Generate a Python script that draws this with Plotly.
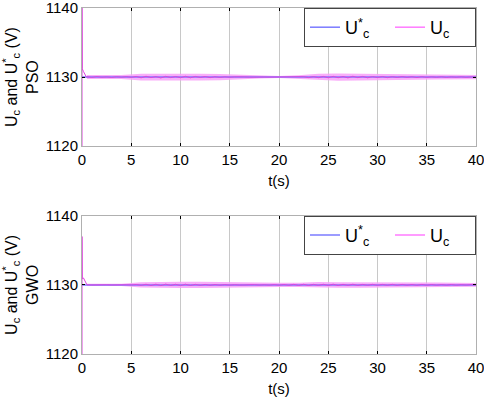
import numpy as np
import plotly.graph_objects as go
from plotly.subplots import make_subplots

# sampling grid of the steady part (s)
t_steady = np.arange(0.5, 40.01, 0.5)

# start-up transient (t, V)
t_start = [0, 0, 0.03, 0.15, 0.3, 0.45]
uc_start_pso = [1120, 1141, 1131.2, 1130.8, 1130.3, 1130.0]
uc_start_gwo = [1120, 1137, 1130.9, 1131.0, 1130.6, 1130.1]

# Uc around the reference, PSO
uc_pso = [
    1130.05, 1129.95, 1130.08, 1129.97, 1130.04, 1129.94, 1130.06, 1129.98, 1130.07, 1129.96,
    1130.10, 1129.90, 1130.12, 1129.92, 1130.08, 1129.88, 1130.11, 1129.93, 1130.09, 1129.91,
    1130.12, 1129.90, 1130.10, 1129.94, 1130.09, 1129.92, 1130.06, 1129.95, 1130.05, 1129.97,
    1130.04, 1129.98, 1130.03, 1129.99, 1130.02, 1129.99, 1130.01, 1130.00, 1130.01, 1129.99,
    1130.02, 1129.98, 1130.04, 1129.96, 1130.06, 1129.93, 1130.08, 1129.92, 1130.10, 1129.90,
    1130.11, 1129.91, 1130.09, 1129.89, 1130.12, 1129.92, 1130.10, 1129.90, 1130.08, 1129.93,
    1130.09, 1129.92, 1130.07, 1129.94, 1130.08, 1129.95, 1130.06, 1129.93, 1130.07, 1129.95,
    1130.05, 1129.96, 1130.06, 1129.95, 1130.04, 1129.97, 1130.05, 1129.96, 1130.03, 1129.98,
]

# Uc around the reference, GWO
uc_gwo = [
    1130.02, 1129.99, 1130.03, 1129.98, 1130.02, 1129.99, 1130.03, 1129.98, 1130.02, 1129.99,
    1130.06, 1129.94, 1130.09, 1129.91, 1130.10, 1129.90, 1130.11, 1129.92, 1130.09, 1129.90,
    1130.10, 1129.91, 1130.08, 1129.93, 1130.07, 1129.94, 1130.06, 1129.95, 1130.05, 1129.96,
    1130.04, 1129.97, 1130.03, 1129.98, 1130.04, 1129.97, 1130.03, 1129.96, 1130.05, 1129.95,
    1130.06, 1129.94, 1130.08, 1129.92, 1130.09, 1129.91, 1130.08, 1129.93, 1130.09, 1129.92,
    1130.10, 1129.91, 1130.08, 1129.93, 1130.09, 1129.92, 1130.07, 1129.94, 1130.08, 1129.93,
    1130.07, 1129.94, 1130.08, 1129.93, 1130.07, 1129.95, 1130.06, 1129.94, 1130.07, 1129.95,
    1130.06, 1129.95, 1130.05, 1129.96, 1130.06, 1129.95, 1130.04, 1129.97, 1130.05, 1129.97,
]

# ripple envelope (t every 2 s)
t_band = [0.5, 2, 4, 6, 8, 10, 12, 14, 16, 18, 20, 22, 24, 26, 28, 30, 32, 34, 36, 38, 40]
pso_upper = [1130.3, 1130.28, 1130.3, 1130.5, 1130.52, 1130.48, 1130.5, 1130.45, 1130.32, 1130.22,
             1130.15, 1130.28, 1130.48, 1130.52, 1130.5, 1130.52, 1130.48, 1130.4, 1130.36, 1130.34, 1130.3]
pso_lower = [1129.72, 1129.74, 1129.72, 1129.52, 1129.5, 1129.52, 1129.5, 1129.56, 1129.7, 1129.8,
             1129.86, 1129.74, 1129.52, 1129.48, 1129.5, 1129.5, 1129.52, 1129.6, 1129.64, 1129.66, 1129.7]
gwo_upper = [1130.18, 1130.15, 1130.18, 1130.4, 1130.48, 1130.46, 1130.45, 1130.4, 1130.32, 1130.28,
             1130.3, 1130.32, 1130.42, 1130.4, 1130.4, 1130.42, 1130.4, 1130.38, 1130.34, 1130.3, 1130.28]
gwo_lower = [1129.84, 1129.86, 1129.84, 1129.62, 1129.54, 1129.56, 1129.56, 1129.6, 1129.68, 1129.72,
             1129.7, 1129.68, 1129.6, 1129.6, 1129.58, 1129.6, 1129.6, 1129.62, 1129.66, 1129.7, 1129.72]

t_ref = [0, 40]
uc_ref = [1130, 1130]

x_ticks = [0, 5, 10, 15, 20, 25, 30, 35, 40]
y_ticks = [1120, 1130, 1140]

FONT = "Liberation Sans, Arial, sans-serif"
BLUE = "#7b7bff"
PINK = "#ff7bff"
PINK_DARK = "#dd44dd"
BAND = "rgba(248,160,248,0.85)"

fig = make_subplots(rows=2, cols=1, vertical_spacing=0.2012)

panels = [
    (1, "PSO", uc_start_pso, uc_pso, pso_upper, pso_lower, "legend"),
    (2, "GWO", uc_start_gwo, uc_gwo, gwo_upper, gwo_lower, "legend2"),
]
for row, name, start, steady, upper, lower, leg in panels:
    fig.add_trace(go.Scatter(x=t_band, y=lower, mode="lines", line=dict(width=0),
                             showlegend=False, hoverinfo="skip"), row=row, col=1)
    fig.add_trace(go.Scatter(x=t_band, y=upper, mode="lines", line=dict(width=0),
                             fill="tonexty", fillcolor=BAND, showlegend=False,
                             hoverinfo="skip"), row=row, col=1)
    fig.add_trace(go.Scatter(x=t_ref, y=uc_ref, mode="lines", name="U<sup>*</sup><sub>c</sub>",
                             line=dict(color=BLUE, width=1.5), legend=leg, legendrank=1),
                  row=row, col=1)
    fig.add_trace(go.Scatter(x=list(t_start) + list(t_steady), y=list(start) + list(steady),
                             mode="lines", line=dict(color=PINK_DARK, width=1),
                             showlegend=False), row=row, col=1)
    # legend entry in the lighter pink
    fig.add_trace(go.Scatter(x=[None], y=[None], mode="lines", name="U<sub>c</sub>",
                             line=dict(color=PINK, width=1.5), legend=leg, legendrank=2),
                  row=row, col=1)
    fig.update_yaxes(
        title=dict(text=f"U<sub>c</sub> and U<sup>*</sup><sub>c</sub> (V)<br>{name}",
                   font=dict(size=16, color="black"), standoff=8),
        row=row, col=1)

fig.update_xaxes(
    range=[0, 40], tickvals=x_ticks, showgrid=True, gridcolor="#c8c8c8", gridwidth=1,
    showline=True, linecolor="#b0b0b0", mirror="ticks", ticks="inside", ticklen=3,
    tickcolor="black", zeroline=False, tickfont=dict(size=15, color="black"),
    automargin=False, ticklabeloverflow="allow",
    title=dict(text="t(s)", font=dict(size=15, color="black"), standoff=8),
)
fig.update_yaxes(
    range=[1120, 1140], tickvals=y_ticks, showgrid=False,
    showline=True, linecolor="#b0b0b0", mirror="ticks", ticks="inside", ticklen=3,
    tickcolor="black", zeroline=False, tickfont=dict(size=15, color="black"),
    automargin=False, ticklabeloverflow="allow",
)

leg_style = dict(orientation="h", xanchor="right", x=1, yanchor="top",
                 bgcolor="white", bordercolor="#444444", borderwidth=1,
                 font=dict(size=18, color="black", family=FONT),
                 entrywidth=40, traceorder="normal")
fig.update_layout(
    width=484, height=404,
    margin=dict(l=82, r=8, t=8, b=50),
    plot_bgcolor="white", paper_bgcolor="white",
    font=dict(family=FONT, color="black"),
    legend=dict(leg_style, y=1),
    legend2=dict(leg_style, y=0.3994),
    showlegend=True,
)

# the page's default body margin would shift the figure by 8 px
fig.write_html("out.html", config={"displayModeBar": False},
               post_script="document.body.style.margin='0px';")
